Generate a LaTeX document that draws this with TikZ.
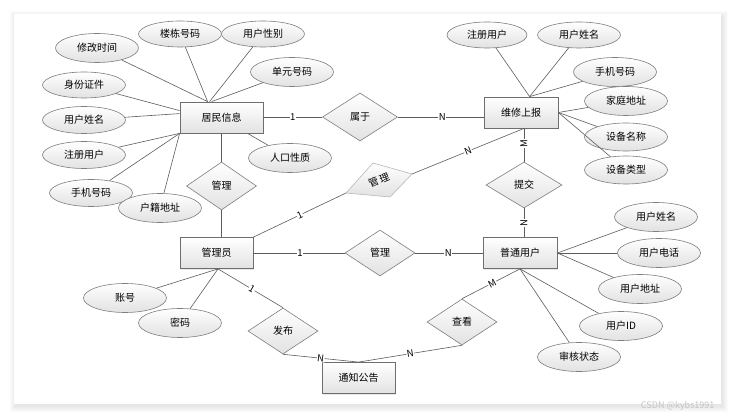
\documentclass[tikz,border=0pt]{standalone}
\usepackage{fontspec}
\setmainfont{Noto Sans CJK SC}
\usetikzlibrary{shapes.geometric,calc,shadows}
\definecolor{edgec}{HTML}{5C5C5C}
\definecolor{boxc}{HTML}{6E6E6E}
\definecolor{ellc}{HTML}{7E7E7E}
\definecolor{fillc}{HTML}{E2E2E2}
\definecolor{softc}{HTML}{B8B8B8}
\definecolor{wmc}{HTML}{C4C4C4}
\begin{document}
\begin{tikzpicture}[x=1pt,y=-1pt,
  font=\fontsize{10}{12}\selectfont,
  entity/.style={rectangle, draw=boxc, line width=0.8pt, top color=white, bottom color=fillc,
    minimum height=31pt, inner sep=0pt,
    drop shadow={opacity=0.18, shadow xshift=1.2pt, shadow yshift=-1.2pt}},
  attr/.style={ellipse, draw=ellc, line width=0.6pt, top color=white, bottom color=fillc,
    minimum width=83pt, minimum height=29pt, inner sep=0pt},
  rel/.style={diamond, draw=ellc, line width=0.6pt, top color=white, bottom color=fillc,
    minimum width=70pt, minimum height=46pt, inner sep=0pt},
  conn/.style={draw=edgec, line width=0.6pt},
  lbl/.style={fill=white, inner sep=0.5pt, font=\fontsize{9.5}{10}\selectfont}
]
\useasboundingbox (0,0) rectangle (735,419);
% card with soft shadow
\foreach \k in {1,...,6}{
  \fill[black, opacity=0.014] ($(14,14)+(-\k+2,-\k+3)$) rectangle ($(721,404)+(\k+1,\k+2)$);
}
\fill[white] (14,14) rectangle (721,404);

% entities
\node[entity, minimum width=83pt] (jm) at (221.5,117.5) {居民信息};
\node[entity, minimum width=74pt] (wx) at (521,112.5) {维修上报};
\node[entity, minimum width=73pt] (gly) at (216.5,253) {管理员};
\node[entity, minimum width=74pt] (pt) at (520,253) {普通用户};
\node[entity, minimum width=73pt] (tz) at (358.5,378) {通知公告};

% relationships
\node[rel, minimum width=75pt, minimum height=48pt] (sy) at (360,117) {属于};
\node[rel, minimum height=48pt] (gl1) at (221.5,186) {管理};
\node[rel, minimum width=76pt] (tj) at (524,185) {提交};
\node[rel] (gl2) at (380,253) {管理};
\node[rel] (fb) at (283,331) {发布};
\node[rel] (ck) at (462,322) {查看};
% tilted relationship
\coordinate (g3L) at (346,193);
\coordinate (g3T) at (373,163);
\coordinate (g3R) at (412,174);
\coordinate (g3B) at (390,197);
\shade[top color=white, bottom color=fillc, draw=softc, line width=0.6pt] (g3L) -- (g3T) -- (g3R) -- (g3B) -- cycle;
\node[rotate=22, inner sep=0pt] (gl3) at (379,180) {管\hspace{1.5pt}理};

% attributes of 居民信息
\node[attr] (a1) at (97,48) {修改时间};
\node[attr, minimum height=26pt] (a2) at (180,34) {楼栋号码};
\node[attr, minimum height=26pt] (a3) at (263,34) {用户性别};
\node[attr] (a4) at (292,72) {单元号码};
\node[attr, minimum height=26pt] (a5) at (84,85) {身份证件};
\node[attr, minimum height=27pt] (a6) at (84,120) {用户姓名};
\node[attr, minimum height=27pt] (a7) at (84,155) {注册用户};
\node[attr, minimum height=27pt] (a8) at (91,193) {手机号码};
\node[attr] (a9) at (160,208) {户籍地址};
\node[attr] (a10) at (290,158) {人口性质};

% attributes of 维修上报
\node[attr, minimum width=80pt, minimum height=26pt] (b1) at (487,35) {注册用户};
\node[attr, minimum height=26pt] (b2) at (579,35) {用户姓名};
\node[attr] (b3) at (615,72) {手机号码};
\node[attr] (b4) at (626,101) {家庭地址};
\node[attr, minimum height=28pt] (b5) at (626,137) {设备名称};
\node[attr, minimum height=28pt] (b6) at (626,170) {设备类型};

% attributes of 普通用户
\node[attr] (c1) at (656,217) {用户姓名};
\node[attr] (c2) at (659,253) {用户电话};
\node[attr] (c3) at (640,289) {用户地址};
\node[attr] (c4) at (621,326) {用户ID};
\node[attr] (c5) at (579,357) {审核状态};

% attributes of 管理员
\node[attr] (d1) at (125,298) {账号};
\node[attr] (d2) at (180,323) {密码};

% anchor points on entity borders
\coordinate (jmT) at ($(jm.north west)+(28,0)$);
\coordinate (jmT2) at ($(jm.north west)+(30,0)$);
\coordinate (jmT3) at ($(jm.north west)+(32,0)$);
\coordinate (jmL1) at ($(jm.north west)+(0,9)$);
\coordinate (jmL2) at ($(jm.north west)+(0,12)$);
\coordinate (jmBL) at (jm.south west);
\coordinate (jmBR) at ($(jm.south west)+(68,0)$);
\coordinate (wxT) at ($(wx.north west)+(46,0)$);
\coordinate (wxR) at (wx.east);
\coordinate (wxB) at ($(wx.south)+(3,0)$);
\coordinate (ptB) at (pt.south);
\coordinate (glyB) at ($(gly.south)+(1.5,0)$);

% attribute connectors
\foreach \n in {a1,a2}{ \draw[conn] (\n) -- (jmT); }
\draw[conn] (a3) -- (jmT2);
\draw[conn] (a4) -- (jmT3);
\draw[conn] (a5) -- (jmL1);
\draw[conn] (a6) -- (jmL2);
\foreach \n in {a7,a8,a9}{ \draw[conn] (\n) -- (jmBL); }
\draw[conn] (a10) -- (jmBR);
\foreach \n in {b1,b2,b3}{ \draw[conn] (\n) -- (wxT); }
\foreach \n in {b4,b5,b6}{ \draw[conn] (\n) -- (wxR); }
\foreach \n in {c1,c2,c3}{ \draw[conn] (\n) -- (pt.east); }
\foreach \n in {c4,c5}{ \draw[conn] (\n) -- (ptB); }
\foreach \n in {d1,d2}{ \draw[conn] (\n) -- (glyB); }

% relationship connectors
\draw[conn] (jm.east |- sy.west) -- node[lbl] {1} (sy.west);
\draw[conn] (sy.east) -- node[lbl, pos=0.52] {N} (sy.east -| wx.west);
\draw[conn] (gl1.north) -- (gl1.north |- jm.south);
\draw[conn] (gl1.south) -- (gl1.south |- gly.north);
\draw[conn] (gly.north east) -- node[lbl, sloped] {1} (g3L);
\draw[conn] (g3R) -- node[lbl, sloped] {N} (wxB);
\draw[conn] (wxB) -- node[lbl, pos=0.45, rotate=90] {M} (tj.north);
\draw[conn] (tj.south) -- node[lbl, rotate=90] {N} (tj.south |- pt.north);
\draw[conn] (gly.east) -- node[lbl, pos=0.51] {1} (gl2.west);
\draw[conn] (gl2.east) -- node[lbl, pos=0.49] {N} (pt.west);
\draw[conn] (glyB) -- node[lbl, sloped, pos=0.52] {1} (fb.north);
\draw[conn] (fb.south) -- node[lbl, sloped] {N} (tz.north);
\draw[conn] (tz.north) -- node[lbl, sloped] {N} (ck.south);
\draw[conn] (ck.north) -- node[lbl, sloped, pos=0.52] {M} (ptB);

% watermark
\node[text=wmc, font=\fontsize{9}{10}\selectfont, anchor=east] (wm) at (718,406) {CSDN @kybs1991};
\end{tikzpicture}
\end{document}
